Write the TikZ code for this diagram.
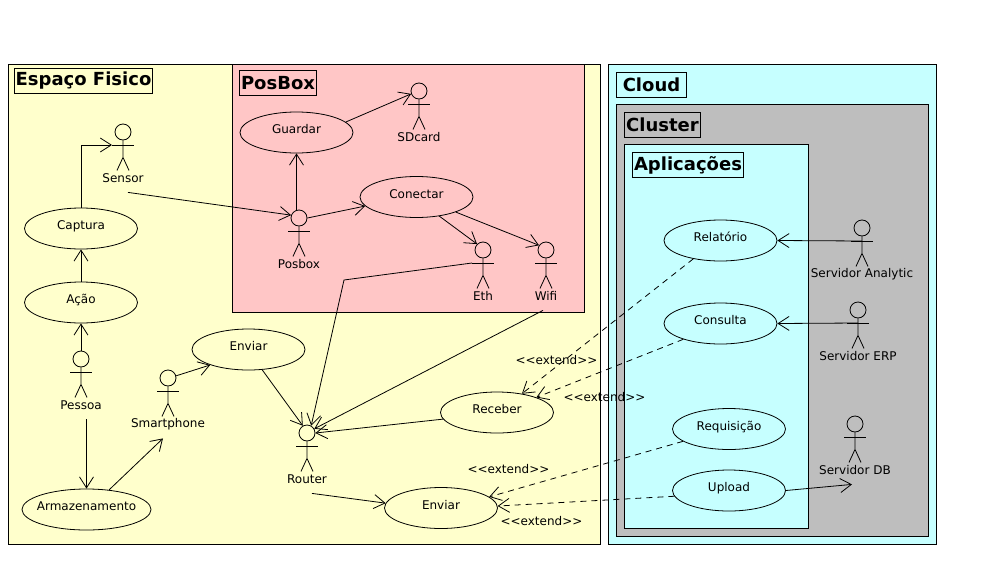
\documentclass[tikz,border=0pt]{standalone}
\usepackage{fontspec}
\setmainfont{DejaVu Sans}
\usetikzlibrary{shapes.geometric}
\usetikzlibrary{arrows.meta}
\definecolor{ambiente}{HTML}{FFFFCC}
\definecolor{caixa}{HTML}{FFC6C6}
\definecolor{nuvem}{HTML}{C6FFFF}
\definecolor{grupo}{HTML}{BEBEBE}
\tikzset{
  usecase/.style={draw, ellipse, inner sep=0pt, text height=8pt, text depth=6pt, minimum width=113pt, minimum height=41pt, font=\fontsize{12}{14}\selectfont},
  head/.style={draw, circle, inner sep=0pt, minimum size=16pt},
  actorname/.style={inner sep=0pt, minimum height=28pt, font=\fontsize{12}{14}\selectfont},
  frame/.style={draw, line width=0.8pt},
  title/.style={draw, line width=0.8pt, inner sep=0pt, minimum height=25pt, font=\bfseries\fontsize{18}{20}\selectfont},
  dep/.style={-{Straight Barb[length=11pt,width=14pt]}, line width=0.8pt},
  ext/.style={dep, dash pattern=on 6pt off 5pt},
  stereo/.style={inner sep=0pt, font=\fontsize{12}{14}\selectfont}
}
\begin{document}
\begin{tikzpicture}[x=1pt, y=-1pt, line width=0.8pt]
  \useasboundingbox (0,0) rectangle (1001,573);

  % boundaries
  \draw[frame, fill=ambiente] (8.5,64.5) rectangle (600.5,544.5);
  \draw[frame, fill=caixa] (232.5,64.5) rectangle (584.5,312.5);
  \draw[frame, fill=nuvem] (608.5,64.5) rectangle (936.5,544.5);
  \draw[frame, fill=grupo] (616.5,104.5) rectangle (928.5,536.5);
  \draw[frame, fill=nuvem] (624.5,144.5) rectangle (808.5,528.5);

  \node[title, minimum width=138pt] (tespaco) at (83.5,80.5) {Espaço Fisico};
  \node[title, minimum width=77pt] (tposbox) at (278,83) {PosBox};
  \node[title, minimum width=70pt] (tcloud) at (651.5,85) {Cloud};
  \node[title, minimum width=76pt] (tcluster) at (662.5,125) {Cluster};
  \node[title, minimum width=111pt] (taplic) at (688,165) {Aplicações};

  % use cases
  \node[usecase] (guardar) at (296.5,132.5) {Guardar};
  \node[usecase] (conectar) at (416.5,197) {Conectar};
  \node[usecase] (captura) at (81,228.5) {Captura};
  \node[usecase] (acao) at (81,302.5) {Ação};
  \node[usecase] (enviarA) at (248.5,349.5) {Enviar};
  \node[usecase, inner xsep=-5pt, minimum width=129pt] (armazenamento) at (86.5,509.5) {Armazenamento};
  \node[usecase] (receber) at (497,412.5) {Receber};
  \node[usecase] (enviarB) at (441,508) {Enviar};
  \node[usecase] (relatorio) at (720.5,240.5) {Relatório};
  \node[usecase] (consulta) at (720.5,323.5) {Consulta};
  \node[usecase] (requisicao) at (729,429) {Requisição};
  \node[usecase] (upload) at (729,490.5) {Upload};

  % actors
  \foreach \nm/\px/\py/\txt in {sdcard/419/91/SDcard, sensor/123/132/Sensor, posbox/299/218/Posbox,
      eth/483/250/Eth, wifi/546/250/Wifi, pessoa/81/359/Pessoa, smartphone/168/378/Smartphone,
      router/307/433/Router, analytic/862/228/Servidor Analytic, erp/858/310/Servidor ERP, db/855/424/Servidor DB} {
    \node[head] (\nm) at (\px,\py) {};
    \draw (\nm.south) -- ++(0,17) -- ++(-6,13) ++(6,-13) -- ++(6,13);
    \draw (\nm) ++(-11,13) coordinate (\nm-hand) -- ++(22,0);
    \path (\nm) ++(0,13) coordinate (\nm-neck);
    \node[actorname] (\nm-lbl) at (\px,\py+46) {\txt};
  }

  % links
  \draw[dep] (captura.north) |- (sensor-hand);
  \draw[dep] (acao.north) -- (captura.south);
  \draw[dep] (pessoa.north) -- (acao.south);
  \draw[dep] ([xshift=5.5pt]pessoa-lbl.south) -- (armazenamento.north);
  \draw[dep] (armazenamento.41) -- ([xshift=-5pt]smartphone-lbl.south);
  \draw[dep] (smartphone.15) -- (enviarA.202);
  \draw[dep] (enviarA.-56) -- (router.120);
  \coordinate (ethbend) at (344,280);
  \draw[dep] (eth-hand) -- (ethbend) -- (router.60);
  \draw[dep] ([xshift=-3pt]wifi-lbl.south) -- (router.30);
  \draw[dep] (receber.187) -- (router.east);
  \draw[dep] ([xshift=5pt]router-lbl.south) -- (enviarB.175);
  \draw[dep] ([xshift=5pt]sensor-lbl.south) -- (posbox.160);
  \draw[dep] (posbox.108) -- (guardar.south);
  \draw[dep] (posbox.0) -- (conectar.190);
  \draw[dep] (conectar.-40) -- (eth.135);
  \draw[dep] (conectar.-21) -- (wifi.146);
  \draw[dep] (guardar.12) -- (sdcard.200);
  \draw[dep] (analytic-neck) -- (relatorio.east);
  \draw[dep] (erp-neck) -- (consulta.east);
  \draw[dep] (upload.east) -- ([xshift=-3pt]db-lbl.south);

  % extends
  \draw[ext] (relatorio.214) -- (receber.37);
  \draw[ext] (consulta.203) -- (receber.21);
  \draw[ext] (requisicao.195) -- (enviarB.13);
  \draw[ext] (upload.186) -- (enviarB.2);

  \node[stereo] (ext1) at (556.5,360) {<{}<extend>{}>};
  \node[stereo] (ext2) at (604.5,397) {<{}<extend>{}>};
  \node[stereo] (ext3) at (508.5,469) {<{}<extend>{}>};
  \node[stereo] (ext4) at (541.5,521) {<{}<extend>{}>};
\end{tikzpicture}
\end{document}
